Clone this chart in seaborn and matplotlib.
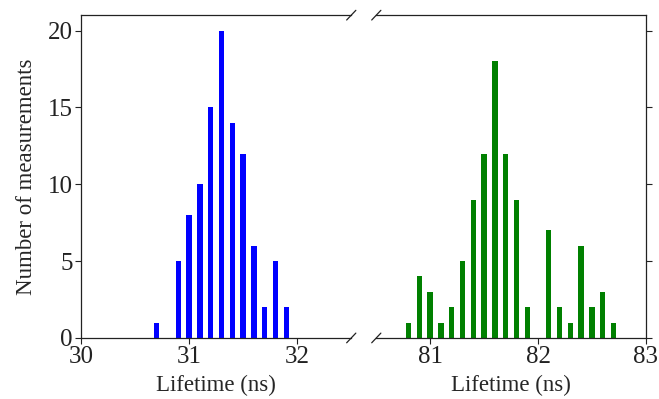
import matplotlib
matplotlib.use("Agg")
import matplotlib.pyplot as plt
import seaborn as sns
import pandas as pd

# Histogram bins (ns) and counts for the two lifetime components
short_lifetimes = [30.7, 30.9, 31.0, 31.1, 31.2, 31.3, 31.4, 31.5, 31.6, 31.7, 31.8, 31.9]
short_counts = [1, 5, 8, 10, 15, 20, 14, 12, 6, 2, 5, 2]

long_lifetimes = [80.8, 80.9, 81.0, 81.1, 81.2, 81.3, 81.4, 81.5, 81.6, 81.7,
                  81.8, 81.9, 82.1, 82.2, 82.3, 82.4, 82.5, 82.6, 82.7]
long_counts = [1, 4, 3, 1, 2, 5, 9, 12, 18, 12, 9, 2, 7, 2, 1, 6, 2, 3, 1]

y_ticks = [0, 5, 10, 15, 20]
short_xticks = [30, 31, 32]
long_xticks = [81, 82, 83]

sns.set_style("ticks")
plt.rcParams["font.family"] = ["Liberation Serif", "DejaVu Serif"]
plt.rcParams["axes.edgecolor"] = "#222222"
plt.rcParams["xtick.color"] = "#222222"
plt.rcParams["ytick.color"] = "#222222"

fig = plt.figure(figsize=(6.59, 3.99), dpi=100)
ax1 = fig.add_axes([0.123, 0.153, 0.410, 0.809])
ax2 = fig.add_axes([0.571, 0.153, 0.409, 0.809])

short_df = pd.DataFrame({"lifetime": short_lifetimes, "count": short_counts})
long_df = pd.DataFrame({"lifetime": long_lifetimes, "count": long_counts})

sns.barplot(data=short_df, x="lifetime", y="count", native_scale=True,
            width=0.5, color="blue", saturation=1, linewidth=0, ax=ax1)
sns.barplot(data=long_df, x="lifetime", y="count", native_scale=True,
            width=0.5, color="green", saturation=1, linewidth=0, ax=ax2)

for ax in (ax1, ax2):
    ax.set_ylim(0, 21)
    ax.set_yticks(y_ticks)
    ax.tick_params(labelsize=18, length=4, width=0.8, pad=2)
    ax.set_xlabel("Lifetime (ns)", fontsize=16.5, labelpad=5)
    for s in ax.spines.values():
        s.set_linewidth(0.9)

ax1.set_xlim(30, 32.5)
ax1.set_xticks(short_xticks)
ax1.set_ylabel("Number of measurements", fontsize=16.5, labelpad=8)
ax1.spines["right"].set_visible(False)

ax2.set_xlim(80.5, 83)
ax2.set_xticks(long_xticks)
ax2.set_ylabel("")
ax2.spines["left"].set_visible(False)
ax2.yaxis.tick_right()
ax2.tick_params(axis="y", labelright=False)

# diagonal break marks
dx, dy = 0.017, 0.015
kw = dict(color="#222222", clip_on=False, linewidth=0.9)
ax1.plot((1 - dx, 1 + dx), (-dy, dy), transform=ax1.transAxes, **kw)
ax1.plot((1 - dx, 1 + dx), (1 - dy, 1 + dy), transform=ax1.transAxes, **kw)
ax2.plot((-dx, dx), (-dy, dy), transform=ax2.transAxes, **kw)
ax2.plot((-dx, dx), (1 - dy, 1 + dy), transform=ax2.transAxes, **kw)

fig.savefig("out.png", dpi=100)
